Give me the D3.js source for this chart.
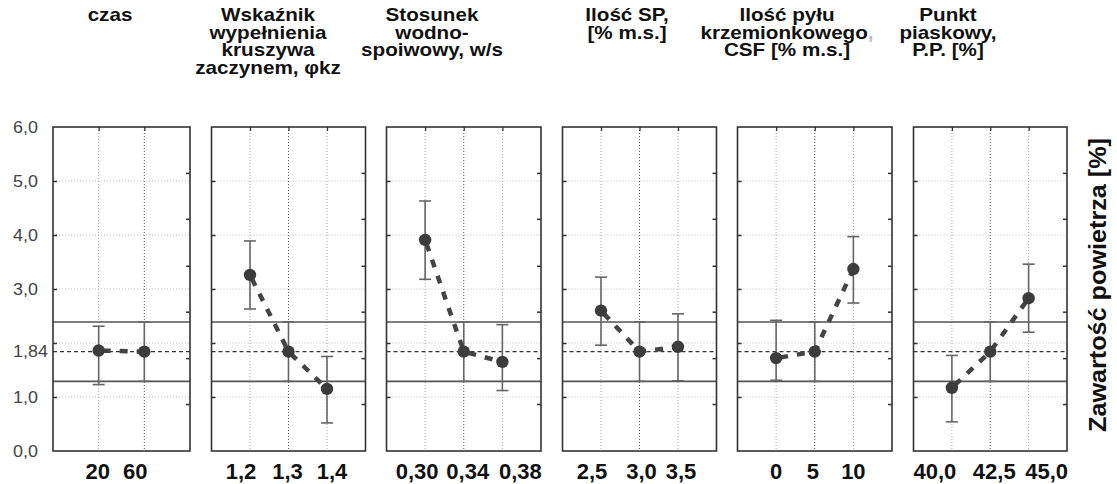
<!DOCTYPE html>
<html>
<head>
<meta charset="utf-8">
<script src="https://cdn.jsdelivr.net/npm/d3@7"></script>
<style>
  body { margin: 0; background: #fff; }
  text { font-family: "Liberation Sans", Arial, sans-serif; }
</style>
</head>
<body>
<svg width="1117" height="484"></svg>
<script>
// factor titles (one entry per panel, split in lines)
var titles = [
  ["czas"],
  ["Wskaźnik", "wypełnienia", "kruszywa", "zaczynem, φkz"],
  ["Stosunek", "wodno-", "spoiwowy, w/s"],
  ["Ilość SP,", "[% m.s.]"],
  ["Ilość pyłu", "krzemionkowego", "CSF [% m.s.]"],
  ["Punkt", "piaskowy,", "P.P. [%]"]
];

// factor levels (x tick labels)
var levels = [
  ["20", "60"],
  ["1,2", "1,3", "1,4"],
  ["0,30", "0,34", "0,38"],
  ["2,5", "3,0", "3,5"],
  ["0", "5", "10"],
  ["40,0", "42,5", "45,0"]
];

// mean air content per level and its confidence interval
var means = [
  [1.86, 1.84],
  [3.26, 1.84, 1.15],
  [3.91, 1.84, 1.65],
  [2.60, 1.84, 1.93],
  [1.72, 1.84, 3.37],
  [1.17, 1.84, 2.83]
];
var lower = [
  [1.23, 1.29],
  [2.63, 1.29, 0.52],
  [3.18, 1.29, 1.12],
  [1.96, 1.29, 1.30],
  [1.31, 1.29, 2.74],
  [0.54, 1.29, 2.20]
];
var upper = [
  [2.31, 2.39],
  [3.89, 2.39, 1.75],
  [4.63, 2.39, 2.34],
  [3.22, 2.39, 2.54],
  [2.42, 2.39, 3.97],
  [1.77, 2.39, 3.46]
];

var grandMean = 1.84,
    limitLow = 1.29,
    limitHigh = 2.39;

var yGrid = [1, 2, 3, 4, 5];
var yLabels = [6, 5, 4, 3, 1.84, 1, 0];
var rightTicks = [0.87, 1.72, 2.58, 3.43, 4.30, 5.15];
var yTitle = "Zawartość powietrza [%]";

// layout
var panelX = [53, 211.5, 386.5, 562.5, 737.5, 913.5],
    panelW = [137, 154, 154.5, 154, 154.5, 153.5],
    titleX = [110, 268, 432, 627, 787, 948],
    labelNudge = [[-1, -9], [-9, -1, 5], [-8, 4, 18], [-9, 2, 3], [0, -2, 0], [-17, 4, 18]];

var svg = d3.select("svg");
var fmt = function(v) { return (v === 1.84 ? "1,84" : d3.format(".1f")(v).replace(".", ",")); };

var y = d3.scaleLinear()
    .domain([0, 6])
    .range([451, 127]);

// y tick labels on the left
svg.append("g").selectAll("text")
    .data(yLabels)
  .enter().append("text")
    .attr("transform", function(d) { return "translate(13," + y(d) + ") scale(1.12,1)"; })
    .attr("dy", "0.36em")
    .attr("fill", "#444")
    .style("font-size", "16px")
    .text(fmt);

titles.forEach(function(lines, i) {
  var g = svg.append("g").attr("transform", "translate(" + panelX[i] + ",0)"),
      w = panelW[i];

  var x = d3.scalePoint()
      .domain(levels[i])
      .range([0, w])
      .padding(1);

  // dotted grid
  g.append("g").selectAll("line")
      .data(yGrid)
    .enter().append("line")
      .attr("x1", 0).attr("x2", w)
      .attr("y1", function(d) { return y(d); })
      .attr("y2", function(d) { return y(d); })
      .attr("stroke", "#b5b5b5")
      .attr("stroke-dasharray", "1,2");

  g.append("g").selectAll("line")
      .data(levels[i])
    .enter().append("line")
      .attr("x1", function(d) { return x(d); })
      .attr("x2", function(d) { return x(d); })
      .attr("y1", y(6)).attr("y2", y(0))
      .attr("stroke", function(d, j) { return j === 1 ? "#555" : "#aaa"; })
      .attr("stroke-dasharray", "1,2");

  // inward ticks
  g.append("g")
      .call(d3.axisLeft(y).tickValues(yGrid).tickSizeInner(-4).tickSizeOuter(0).tickFormat(""))
      .call(function(a) { a.select(".domain").remove(); a.selectAll("line").attr("stroke", "#333").attr("stroke-width", 1.5); });
  g.append("g")
      .attr("transform", "translate(" + w + ",0)")
      .call(d3.axisRight(y).tickValues(rightTicks).tickSizeInner(-4).tickSizeOuter(0).tickFormat(""))
      .call(function(a) { a.select(".domain").remove(); a.selectAll("line").attr("stroke", "#333").attr("stroke-width", 1.5); });
  g.append("g")
      .attr("transform", "translate(0," + y(6) + ")")
      .call(d3.axisTop(x).tickSizeInner(-4).tickSizeOuter(0).tickFormat(""))
      .call(function(a) { a.select(".domain").remove(); a.selectAll("line").attr("stroke", "#333").attr("stroke-width", 1.3); });

  // limits and grand mean
  [limitLow, limitHigh].forEach(function(v) {
    g.append("line")
        .attr("x1", 0).attr("x2", w)
        .attr("y1", y(v)).attr("y2", y(v))
        .attr("stroke", "#555")
        .attr("stroke-width", 1.6);
  });
  g.append("line")
      .attr("x1", 0).attr("x2", w)
      .attr("y1", y(grandMean)).attr("y2", y(grandMean))
      .attr("stroke", "#333")
      .attr("stroke-width", 1.4)
      .attr("stroke-dasharray", "4,3");

  var pts = levels[i].map(function(l, j) {
    return {l: l, m: means[i][j], lo: lower[i][j], hi: upper[i][j]};
  });

  // error bars
  var eb = g.append("g").attr("stroke", "#666").attr("stroke-width", 1.6);
  pts.forEach(function(d) {
    eb.append("line")
        .attr("x1", x(d.l)).attr("x2", x(d.l))
        .attr("y1", y(d.hi)).attr("y2", y(d.lo));
    [d.hi, d.lo].forEach(function(v) {
      eb.append("line")
          .attr("x1", x(d.l) - 6).attr("x2", x(d.l) + 6)
          .attr("y1", y(v)).attr("y2", y(v));
    });
  });

  // connecting dashed line
  var valueline = d3.line()
      .x(function(d) { return x(d.l); })
      .y(function(d) { return y(d.m); });

  g.append("path")
      .datum(pts)
      .attr("d", valueline)
      .attr("fill", "none")
      .attr("stroke", "#444")
      .attr("stroke-width", 4.5)
      .attr("stroke-dasharray", "8,9")
      .attr("stroke-dashoffset", -4);

  g.selectAll(".dot")
      .data(pts)
    .enter().append("circle")
      .attr("class", "dot")
      .attr("cx", function(d) { return x(d.l); })
      .attr("cy", function(d) { return y(d.m); })
      .attr("r", 6.2)
      .attr("fill", "#3c3c3c");

  // frame
  g.append("rect")
      .attr("x", 0).attr("y", y(6))
      .attr("width", w).attr("height", y(0) - y(6))
      .attr("fill", "none")
      .attr("stroke", "#333")
      .attr("stroke-width", 1.6);

  // x tick labels
  g.append("g").selectAll("text")
      .data(levels[i])
    .enter().append("text")
      .attr("x", function(d, j) { return x(d) + labelNudge[i][j]; })
      .attr("y", 479)
      .attr("text-anchor", "middle")
      .style("font-size", "22px")
      .style("font-weight", "bold")
      .attr("fill", "#111")
      .text(function(d) { return d; });

  // title
  var t = svg.append("g")
      .attr("transform", "translate(" + titleX[i] + ",0) scale(1.18,1)");
  lines.forEach(function(s, k) {
    var tx = t.append("text")
        .attr("x", 0)
        .attr("y", 21.5 + k * 17.5)
        .attr("text-anchor", "middle")
        .style("font-size", "17.5px")
        .style("font-weight", "bold")
        .attr("fill", "#111")
        .text(s);
    if (i === 4 && k === 1) tx.append("tspan").attr("fill", "#bbb").text(",");
  });
});

// right axis title
svg.append("text")
    .attr("transform", "translate(1106,285) rotate(-90)")
    .attr("text-anchor", "middle")
    .attr("textLength", 294)
    .attr("lengthAdjust", "spacingAndGlyphs")
    .style("font-size", "23px")
    .style("font-weight", "bold")
    .attr("fill", "#111")
    .text(yTitle);
</script>
</body>
</html>
